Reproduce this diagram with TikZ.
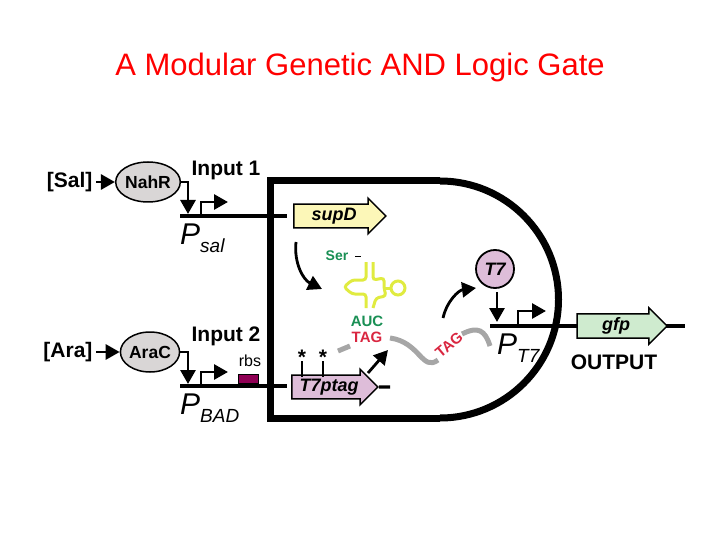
\documentclass[tikz,border=0pt]{standalone}
\usepackage{fontspec}
\setmainfont{Liberation Sans}
\usetikzlibrary{shapes.arrows,shapes.geometric,arrows.meta,positioning}
\definecolor{gatecolor}{rgb}{0.000000, 0.000000, 0.000000}
\definecolor{protcolor}{rgb}{0.850000, 0.840000, 0.840000}
\definecolor{supdcolor}{rgb}{0.990000, 0.970000, 0.720000}
\definecolor{tagcolor}{rgb}{0.870000, 0.740000, 0.850000}
\definecolor{gfpcolor}{rgb}{0.810000, 0.920000, 0.810000}
\definecolor{trnacolor}{rgb}{0.880000, 0.920000, 0.250000}
\definecolor{aucgreen}{rgb}{0.100000, 0.560000, 0.330000}
\definecolor{tagred}{rgb}{0.850000, 0.150000, 0.250000}
\definecolor{rbscolor}{rgb}{0.560000, 0.000000, 0.330000}
\tikzset{
  prot/.style={ellipse,draw,line width=1.5pt,fill=protcolor,font=\bfseries\fontsize{17.5}{17.5}\selectfont,inner sep=0pt},
  gene/.style={single arrow,draw,line width=1.5pt,single arrow head extend=6pt,minimum height=92pt,minimum width=30pt,inner xsep=2pt,inner ysep=3pt,font=\bfseries\itshape\fontsize{18}{18}\selectfont},
  lbl/.style={font=\bfseries\fontsize{21}{21}\selectfont},
  wire/.style={line width=3.3pt},
  act/.style={line width=2.8pt,-{Triangle[length=14pt,width=15pt]}},
  prom/.style={line width=2.8pt,-{Triangle[length=14pt,width=15pt]}},
  ptxt/.style={font=\itshape\fontsize{30}{30}\selectfont,anchor=north west,inner sep=0pt},
}
\newcommand{\psub}[1]{P\raisebox{-8pt}{\fontsize{19}{19}\selectfont\itshape #1}}
\begin{document}
\begin{tikzpicture}[x=1pt,y=-1pt]
\useasboundingbox (0,0) rectangle (720,540);
\node[text=red,font=\fontsize{31}{31}\selectfont] (title) at (360,67) {A Modular Genetic AND Logic Gate};
% the cell
\draw[line width=7pt,gatecolor] (440,181) -- (270,181) -- (270,418) -- (440,418);
\draw[line width=7pt,gatecolor] (440,181) arc[start angle=-90,end angle=90,radius=118.5];
% input 1
\node[lbl,anchor=east] (sal) at (96,182) {[Sal]};
\node[prot,minimum width=56pt,minimum height=40pt] (nahr) at (148,182) {NahR};
\draw[act] (sal) -- (nahr);
\node[lbl] (in1) at (226,170) {Input 1};
\coordinate (psal) at (188,214);
\draw[wire] (180,216) -- (287,216);
\draw[act] (nahr.east) -| (psal);
\draw[prom] (201,216) -- (201,202) -- (228,202);
\node[ptxt] (psaltext) at (180,224) {\psub{sal}};
\node[gene,fill=supdcolor] (supd) at (334,216) {supD\hspace{16pt}};
% tRNA
\node[text=aucgreen,font=\bfseries\fontsize{14}{14}\selectfont] (ser) at (337,256) {Ser};
\draw[line width=1pt] (355,256) -- (361,256);
\draw[trnacolor,line width=3pt,rounded corners=3pt] (366,262) -- (366,280) -- (352,280) -- (344,287) -- (352,294) -- (366,294) -- (366,308);
\draw[trnacolor,line width=3pt,rounded corners=3pt] (373,262) -- (373,280) -- (384,278) -- (384,288) -- (386,296) -- (376,298) -- (373,308);
\draw[trnacolor,line width=3pt] (398,288) circle (7);
\draw[trnacolor,line width=3pt] (384,288) -- (391,288);
\node[text=aucgreen,font=\bfseries\fontsize{15}{15}\selectfont] (auc) at (367,321) {AUC};
\node[text=tagred,font=\bfseries\fontsize{15}{15}\selectfont] (tag1) at (367,337) {TAG};
\draw[act] (296,242) to[bend right=35] (322,289);
% mRNA
\draw[gray!70,line width=5pt] (338,351) -- (350,346);
\draw[gray!70,line width=5pt] (390,338) .. controls (420,342) and (422,372) .. (438,360);
\node[text=tagred,font=\bfseries\fontsize{15}{15}\selectfont,rotate=40,inner sep=0pt] (tag2) at (449,345) {TAG};
\draw[gray!70,line width=5pt] (462,334) .. controls (478,326) and (485,330) .. (490,346);
% input 2
\node[lbl,anchor=east] (ara) at (96,352) {[Ara]};
\node[prot,minimum width=56pt,minimum height=40pt] (arac) at (150,352) {AraC};
\draw[act] (ara) -- (arac);
\node[lbl] (in2) at (226,336) {Input 2};
\coordinate (pbad) at (188,384);
\draw[wire] (180,386) -- (287,386);
\draw[act] (arac.east) -| (pbad);
\draw[prom] (201,386) -- (201,372) -- (228,372);
\node[font=\fontsize{16}{16}\selectfont] (rbstext) at (250,361) {rbs};
\node[draw,line width=1pt,fill=rbscolor,minimum width=20pt,minimum height=9pt,inner sep=0pt] (rbs) at (248,379) {};
\node[ptxt] (pbadtext) at (180,394) {\psub{BAD}};
\node[gene,fill=tagcolor,minimum height=86pt] (t7ptag) at (329,387) {T7ptag\hspace{12pt}};
\draw[wire] (t7ptag.east) -- (390,387);
\foreach \x in {302,323} {
  \draw[line width=2pt] (\x,377) -- (\x,361);
  \node[font=\bfseries\fontsize{21}{21}\selectfont] (star\x) at (\x,357) {*};
}
\draw[act] (368,373) -- (388,350);
% output
\draw[act] (443,318) to[bend left=35] (476,288);
\node[circle,draw,line width=1.8pt,fill=tagcolor,minimum size=38pt,inner sep=0pt,font=\bfseries\itshape\fontsize{18}{18}\selectfont] (t7) at (495,269) {T7};
\coordinate (pt7) at (497,322);
\draw[act] (497,292) -- (pt7);
\draw[wire] (490,326) -- (685,326);
\draw[prom] (518,326) -- (518,311) -- (546,311);
\node[ptxt] (pt7text) at (497,334) {\psub{T7}};
\node[gene,fill=gfpcolor,minimum height=90pt,minimum width=34pt] (gfp) at (616,326) {gfp\hspace{16pt}};
\node[lbl] (output) at (614,362) {OUTPUT};
\end{tikzpicture}
\end{document}
